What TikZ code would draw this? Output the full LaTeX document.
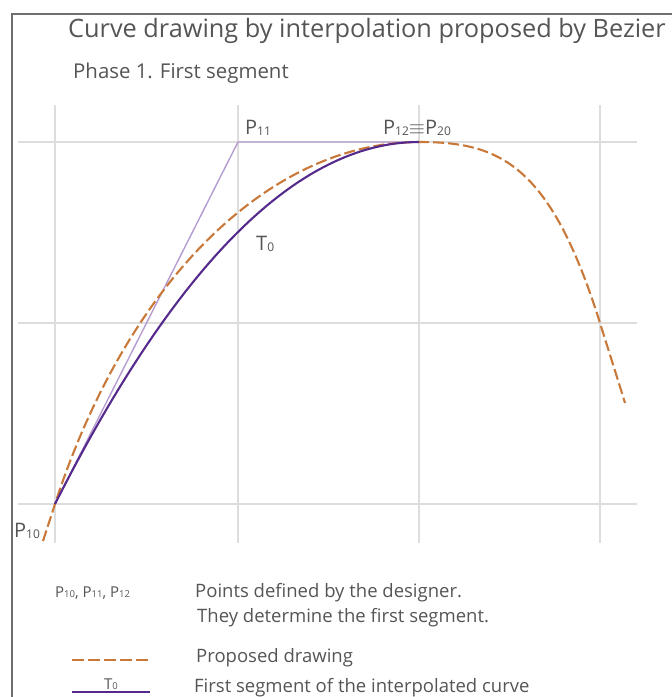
\documentclass[tikz,border=0pt]{standalone}
\usepackage{fontspec}
\setmainfont{Open Sans}
\usetikzlibrary{calc}
\definecolor{txt}{HTML}{555555}
\definecolor{frame}{HTML}{6E6E6E}
\definecolor{gridc}{HTML}{DDDDDD}
\definecolor{orng}{HTML}{C8793A}
\definecolor{purp}{HTML}{552A8C}
\definecolor{lpurp}{HTML}{B49CD2}
\newcommand\mysub[1]{\raisebox{-1pt}{\fontsize{12}{12}\selectfont #1}}
\newcommand\mysubs[1]{\raisebox{-0.5pt}{\fontsize{9.5}{9.5}\selectfont #1}}
\begin{document}
\begin{tikzpicture}[x=1pt,y=-1pt,
  gridline/.style={gridc,line width=1.6pt},
  frameline/.style={frame,line width=2pt},
  proposed/.style={orng,line width=2.1pt,dash pattern=on 11pt off 4pt},
  segment/.style={purp,line width=2.1pt},
  ctrl/.style={lpurp,line width=1.4pt},
  lbl/.style={inner sep=0pt,anchor=base west,text=txt,font=\fontsize{20}{24}\selectfont},
  leg/.style={inner sep=0pt,anchor=base west,text=txt,font=\fontsize{18.5}{22}\selectfont}]
\useasboundingbox (0,0) rectangle (672,697);
% grid
\foreach \x in {55,238,419,600} \draw[gridline] (\x,105) -- (\x,543);
\foreach \y in {142,323,504} \draw[gridline] (18,\y) -- (637,\y);
% frame
\draw[frameline] (672,14) -- (12,14) -- (12,697);
% titles
\node[inner sep=0pt,anchor=base west,text=txt,font=\fontsize{25.3}{30}\selectfont] (title) at (68,37) {Curve drawing by interpolation proposed by Bezier};
\node[inner sep=0pt,anchor=base west,text=txt,font=\fontsize{20.4}{24}\selectfont] (phase) at (73,78) {Phase 1. First segment};
% points
\coordinate (P10) at (55,504);
\coordinate (P11) at (238,142);
\coordinate (P12) at (419,142);
\coordinate (Q) at (600,323);
\coordinate (S) at (43,541);
\coordinate (E) at (625,403);
% control polygon
\draw[ctrl] (P10) -- (P11) -- (P12);
% proposed drawing
\draw[proposed] (S) -- (P10) .. controls (127,282) and (269,142) .. (P12)
   .. controls (499,142) and (550,163) .. (Q) .. controls (610,355) and (618,380) .. (E);
% first segment (quadratic Bezier P10, P11, P12)
\draw[segment] (P10) .. controls ($(P10)!2/3!(P11)$) and ($(P12)!2/3!(P11)$) .. (P12);
% labels
\node[lbl] (l11) at (245,134) {P\mysub{11}};
\node[lbl] (l12) at (383,134) {P\mysub{12}$\equiv$P\mysub{20}};
\node[lbl] (lT) at (256,250) {T\mysub{0}};
\node[lbl] (l10) at (14,537) {P\mysub{10}};
% legend
\node[inner sep=0pt,anchor=base west,text=txt,font=\fontsize{15}{18}\selectfont] (lp) at (55,597) {P\mysubs{10}, P\mysubs{11}, P\mysubs{12}};
\node[leg] (d1) at (195,597) {Points defined by the designer.};
\node[leg] (d2) at (197,622) {They determine the first segment.};
\node[leg] (d3) at (196,662) {Proposed drawing};
\node[leg] (d4) at (194,692) {First segment of the interpolated curve};
\coordinate (a1) at (72,660); \coordinate (a2) at (150,660);
\draw[proposed,dash pattern=on 12pt off 4pt] (a1) -- (a2);
\coordinate (b1) at (72,692); \coordinate (b2) at (150,692);
\draw[segment] (b1) -- (b2);
\node[inner sep=0pt,anchor=base,text=txt,font=\fontsize{15}{18}\selectfont] (lT0) at (111,689) {T\mysubs{0}};
\end{tikzpicture}
\end{document}
